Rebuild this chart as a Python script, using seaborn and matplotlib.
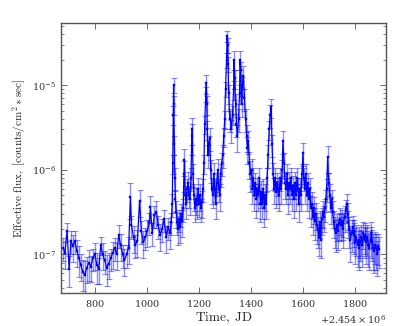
import numpy as np
import pandas as pd
import matplotlib
matplotlib.use("Agg")
import matplotlib.pyplot as plt
import seaborn as sns

# Light curve: time (JD - 2454000), flux in units of 1e-7 counts/cm^2/sec, relative error
time = [
    678, 685, 693, 701, 708, 716, 723, 731, 739, 746,
    754, 762, 769, 777, 785, 792, 800, 808, 815, 823,
    830, 838, 846, 853, 861, 869, 876, 884, 892, 899,
    907, 914, 922, 930, 937, 941, 949, 956, 964, 972,
    979, 987, 995, 1002, 1010, 1014, 1021, 1029, 1037, 1044,
    1052, 1059, 1067, 1075, 1082, 1090, 1094, 1098, 1100, 1102,
    1103, 1104, 1106, 1108, 1110, 1113, 1117, 1121, 1125, 1128,
    1132, 1136, 1140, 1143, 1145, 1148, 1151, 1155, 1159, 1162,
    1166, 1170, 1173, 1175, 1178, 1181, 1185, 1189, 1193, 1197,
    1200, 1204, 1208, 1212, 1216, 1220, 1223, 1227, 1229, 1231,
    1233, 1235, 1238, 1242, 1246, 1250, 1254, 1258, 1261, 1265,
    1269, 1273, 1277, 1281, 1284, 1288, 1292, 1296, 1300, 1303,
    1307, 1309, 1311, 1313, 1315, 1319, 1322, 1326, 1330, 1334,
    1336, 1338, 1342, 1345, 1349, 1353, 1357, 1359, 1361, 1365,
    1368, 1372, 1376, 1380, 1384, 1387, 1391, 1395, 1399, 1403,
    1406, 1410, 1414, 1418, 1422, 1425, 1429, 1433, 1437, 1441,
    1444, 1448, 1452, 1456, 1460, 1463, 1467, 1471, 1475, 1479,
    1482, 1486, 1490, 1494, 1498, 1502, 1505, 1509, 1513, 1517,
    1521, 1524, 1528, 1532, 1536, 1540, 1543, 1547, 1551, 1555,
    1559, 1562, 1566, 1570, 1574, 1578, 1582, 1585, 1589, 1593,
    1597, 1601, 1604, 1608, 1612, 1616, 1620, 1623, 1627, 1631,
    1635, 1639, 1643, 1646, 1650, 1654, 1658, 1662, 1666, 1669,
    1673, 1677, 1681, 1685, 1689, 1692, 1696, 1700, 1704, 1708,
    1712, 1715, 1719, 1723, 1727, 1731, 1734, 1738, 1742, 1746,
    1750, 1754, 1757, 1761, 1765, 1769, 1773, 1776, 1780, 1784,
    1788, 1792, 1796, 1799, 1803, 1807, 1811, 1815, 1818, 1822,
    1826, 1830, 1834, 1838, 1841, 1845, 1849, 1853, 1857, 1861,
    1864, 1868, 1872, 1876, 1880, 1884, 1887, 1891, 1895,
]
flux = [
    1.2, 1.05, 1.9, 0.68, 1.45, 1.25, 1.45, 1.1, 0.9, 0.75,
    0.62, 0.58, 0.7, 0.8, 0.72, 0.9, 1.0, 0.75, 0.68, 1.3,
    1.0, 0.85, 0.7, 0.78, 0.9, 1.05, 1.2, 1.0, 1.7, 1.3,
    1.0, 0.85, 1.0, 1.2, 4.8, 2.2, 1.6, 1.3, 1.45, 4.3,
    1.9, 1.4, 1.6, 1.9, 2.4, 3.6, 1.8, 2.9, 3.2, 2.2,
    1.7, 2.0, 2.6, 1.6, 2.1, 1.8, 2.4, 4.0, 12, 45,
    100, 60, 20, 8, 4.5, 3.2, 2.4, 2.0, 2.6, 2.1,
    3.0, 2.5, 3.5, 9, 13, 5, 4, 6, 7, 5,
    4.5, 8, 25, 30, 9, 5, 3.5, 4.5, 3.8, 6,
    4, 5, 3.5, 4.2, 6, 12, 35, 80, 105, 60,
    30, 15, 20, 24, 10, 6, 5, 9, 6, 4,
    7, 10, 6, 5, 9, 12, 15, 25, 40, 90,
    200, 380, 300, 180, 80, 40, 40, 30, 45, 90,
    200, 120, 60, 35, 25, 40, 80, 200, 150, 60,
    100, 130, 70, 40, 25, 18, 22, 12, 9, 10,
    6, 8, 5, 7, 4.5, 6, 5, 8, 4, 5.5,
    4, 6, 3.5, 5, 4, 8, 15, 30, 45, 55,
    20, 9, 6, 8, 5.5, 7, 6, 5, 8, 6,
    10, 22, 12, 7, 6, 9, 5, 7, 6, 8,
    5, 6.5, 4.5, 7, 5, 8, 6, 4, 6, 5,
    9, 16, 8, 6, 9, 5, 7, 4.5, 6, 3.5,
    4, 2.8, 3.5, 2.5, 3, 2.2, 2.0, 1.6, 2.4, 1.5,
    2.6, 3.2, 2.8, 3.5, 4.5, 6, 14, 7, 5, 3.5,
    4.5, 3.2, 2.4, 2.0, 1.8, 2.2, 1.9, 2.3, 2.6, 2.2,
    2.5, 2.0, 2.3, 2.8, 3.4, 4.0, 3.0, 2.4, 2.0, 1.5,
    1.8, 2.1, 1.7, 1.9, 1.4, 1.6, 1.3, 1.5, 1.2, 1.4,
    1.6, 1.3, 1.8, 1.5, 1.7, 1.4, 1.6, 1.3, 1.2, 1.5,
    1.8, 1.4, 1.2, 1.1, 1.3, 1.2, 1.0, 1.25, 1.15,
]
rel_err = [
    0.30, 0.35, 0.25, 0.40, 0.30, 0.35, 0.30, 0.35, 0.40, 0.35,
    0.40, 0.45, 0.35, 0.40, 0.35, 0.30, 0.35, 0.40, 0.35, 0.25,
    0.35, 0.30, 0.40, 0.35, 0.30, 0.35, 0.30, 0.35, 0.30, 0.35,
    0.30, 0.35, 0.30, 0.35, 0.45, 0.30, 0.35, 0.30, 0.35, 0.35,
    0.30, 0.35, 0.30, 0.35, 0.30, 0.35, 0.30, 0.30, 0.35, 0.30,
    0.35, 0.30, 0.30, 0.35, 0.30, 0.35, 0.30, 0.30, 0.25, 0.25,
    0.20, 0.25, 0.25, 0.30, 0.30, 0.35, 0.30, 0.35, 0.30, 0.35,
    0.30, 0.35, 0.30, 0.40, 0.35, 0.30, 0.35, 0.30, 0.35, 0.30,
    0.35, 0.30, 0.40, 0.35, 0.30, 0.35, 0.30, 0.35, 0.30, 0.35,
    0.30, 0.35, 0.30, 0.35, 0.30, 0.25, 0.25, 0.20, 0.25, 0.25,
    0.25, 0.30, 0.25, 0.30, 0.30, 0.35, 0.30, 0.35, 0.30, 0.35,
    0.30, 0.35, 0.30, 0.35, 0.30, 0.30, 0.30, 0.25, 0.25, 0.20,
    0.20, 0.15, 0.20, 0.20, 0.25, 0.25, 0.30, 0.30, 0.25, 0.25,
    0.25, 0.25, 0.30, 0.30, 0.35, 0.30, 0.25, 0.25, 0.25, 0.30,
    0.25, 0.30, 0.30, 0.30, 0.35, 0.35, 0.30, 0.35, 0.40, 0.35,
    0.35, 0.30, 0.35, 0.30, 0.40, 0.35, 0.35, 0.30, 0.40, 0.35,
    0.35, 0.30, 0.40, 0.35, 0.35, 0.30, 0.30, 0.25, 0.30, 0.25,
    0.30, 0.35, 0.35, 0.30, 0.35, 0.30, 0.35, 0.35, 0.30, 0.35,
    0.30, 0.30, 0.30, 0.35, 0.35, 0.30, 0.40, 0.35, 0.35, 0.30,
    0.35, 0.30, 0.40, 0.35, 0.35, 0.30, 0.35, 0.40, 0.35, 0.35,
    0.30, 0.30, 0.30, 0.35, 0.30, 0.35, 0.30, 0.40, 0.35, 0.40,
    0.35, 0.40, 0.35, 0.40, 0.35, 0.40, 0.40, 0.40, 0.35, 0.40,
    0.35, 0.35, 0.35, 0.30, 0.30, 0.30, 0.35, 0.30, 0.35, 0.35,
    0.30, 0.35, 0.35, 0.40, 0.40, 0.35, 0.40, 0.35, 0.35, 0.35,
    0.35, 0.40, 0.35, 0.35, 0.30, 0.30, 0.35, 0.35, 0.40, 0.45,
    0.40, 0.35, 0.40, 0.35, 0.45, 0.40, 0.45, 0.40, 0.45, 0.40,
    0.40, 0.45, 0.35, 0.40, 0.40, 0.45, 0.40, 0.45, 0.45, 0.40,
    0.35, 0.40, 0.45, 0.45, 0.40, 0.45, 0.45, 0.40, 0.40,
]

jd0 = 2454000
df = pd.DataFrame({
    "jd": np.array(time) + jd0,
    "flux": np.array(flux) * 1e-7,
})
df["err"] = df["flux"] * np.array(rel_err)

sns.set_theme(style="ticks")
plt.rcParams.update({
    "font.family": "serif",
    "font.serif": ["DejaVu Serif"],
    "mathtext.fontset": "cm",
    "axes.formatter.use_mathtext": True,
    "xtick.direction": "in",
    "ytick.direction": "in",
    "xtick.top": True,
    "ytick.right": True,
    "axes.edgecolor": "#555555",
    "xtick.color": "#555555",
    "ytick.color": "#555555",
    "xtick.labelcolor": "#333333",
    "ytick.labelcolor": "#333333",
})

fig = plt.figure(figsize=(4.07, 3.26), dpi=100)
ax = fig.add_axes([0.150, 0.101, 0.798, 0.828])

ax.errorbar(df["jd"], df["flux"], yerr=df["err"], fmt="none",
            ecolor="blue", alpha=0.45, elinewidth=1.0, capsize=2, capthick=0.8)
sns.lineplot(data=df, x="jd", y="flux", ax=ax, color="blue", lw=0.9,
             marker="s", markersize=2, markeredgewidth=0.3, markeredgecolor="blue",
             estimator=None, sort=False)

ax.set_yscale("log")
ax.set_xlim(jd0 + 670, jd0 + 1920)
ax.set_ylim(3.5e-8, 5.4e-5)
ax.set_xticks([jd0 + v for v in [800, 1000, 1200, 1400, 1600, 1800]])
fmt = matplotlib.ticker.ScalarFormatter(useOffset=jd0, useMathText=True)
ax.xaxis.set_major_formatter(fmt)
ax.xaxis.get_offset_text().set_fontsize(7)
ax.tick_params(axis="both", which="major", labelsize=7, length=4, width=0.6)
ax.tick_params(axis="y", which="minor", length=2, width=0.5)
for s in ax.spines.values():
    s.set_linewidth(1.0)

ax.set_xlabel(r"$\mathrm{Time,\ JD}$", fontsize=9.5, labelpad=1)
ax.set_ylabel(r"$\mathrm{Effective\ flux,\ [counts/cm^2 * sec]}$", fontsize=8, labelpad=3)

fig.savefig("out.png", dpi=100)
